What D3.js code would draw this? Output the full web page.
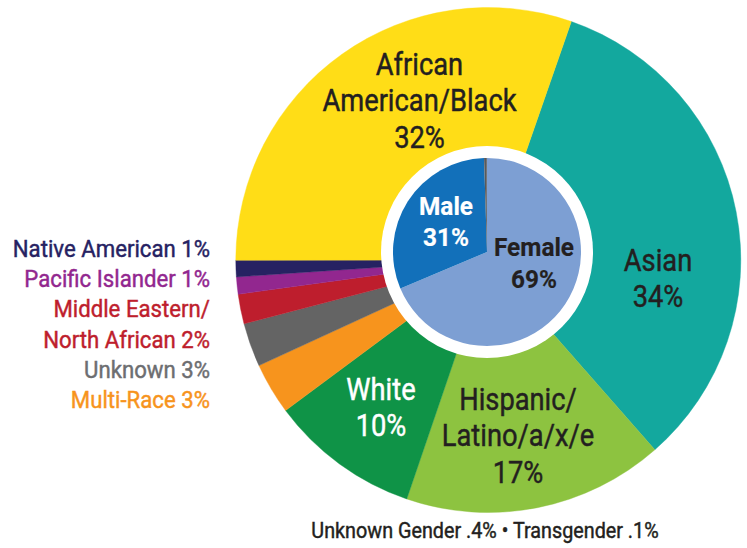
<!DOCTYPE html>
<html>
<head>
<meta charset="utf-8">
<script src="https://cdn.jsdelivr.net/npm/d3@7"></script>
<style>
  html, body { margin: 0; padding: 0; background: #fff; }
  svg { display: block; }
</style>
</head>
<body>
<svg id="chart" width="747" height="548"></svg>
<script>
// ===== Data =====
// Outer ring: race / ethnicity, clockwise from the Asian slice
const raceNames  = ["Asian", "Hispanic/Latino/a/x/e", "White", "Multi-Race", "Unknown",
                    "Middle Eastern/North African", "Pacific Islander", "Native American",
                    "African American/Black"];
const racePct    = [34, 17, 10, 3, 3, 2, 1, 1, 32];          // printed labels
const raceShare  = [33.2, 16.7, 9.6, 3.3, 2.8, 1.9, 1.1, 1.05, 30.35]; // slice sizes as drawn
const raceColors = ["#13a89e", "#8dc340", "#0f9347", "#f7941d", "#646464",
                    "#be1e2d", "#92278f", "#262262", "#ffdd17"];

// Inner pie: gender
const genderNames  = ["Female", "Male", "Unknown Gender", "Transgender"];
const genderPct    = [69, 31, 0.4, 0.1];
const genderColors = ["#7d9fd3", "#1270ba", "#58595b", "#414042"];

const footNote = "Unknown Gender .4% \u2022 Transgender .1%";

// ===== Layout =====
const svg = d3.select("#chart");
const FONT = "Roboto, 'Noto Sans', sans-serif";

const outer = { cx: 488.3, cy: 260, r: 252.5, start: 19.2 * Math.PI / 180 };
const inner = { cx: 487, cy: 252, r: 94, ring: 106 };

// Outer pie (full pie, the white disc covers its middle)
const racePie = d3.pie().sort(null).value(d => d.share)
    .startAngle(outer.start).endAngle(outer.start + 2 * Math.PI);
const raceData = raceNames.map((n, i) => ({ name: n, pct: racePct[i], share: raceShare[i], color: raceColors[i] }));
const raceArc = d3.arc().innerRadius(0).outerRadius(outer.r);

svg.append("g")
    .attr("transform", `translate(${outer.cx},${outer.cy})`)
    .selectAll("path")
    .data(racePie(raceData))
    .join("path")
    .attr("d", raceArc)
    .attr("fill", d => d.data.color)
    .attr("stroke", d => d.data.color)
    .attr("stroke-width", 0.4);

// White disc + gender pie
svg.append("circle")
    .attr("cx", inner.cx).attr("cy", inner.cy).attr("r", inner.ring)
    .attr("fill", "#fff");

const genderPie = d3.pie().sort(null).value(d => d.pct);
const genderData = genderNames.map((n, i) => ({ name: n, pct: genderPct[i], color: genderColors[i] }));
const genderArc = d3.arc().innerRadius(0).outerRadius(inner.r);

svg.append("g")
    .attr("transform", `translate(${inner.cx},${inner.cy})`)
    .selectAll("path")
    .data(genderPie(genderData))
    .join("path")
    .attr("d", genderArc)
    .attr("fill", d => d.data.color);

// ===== Labels =====
// Roboto squeezed horizontally stands in for the condensed face
function label(x, y, lines, opts) {
    const t = svg.append("text")
        .attr("transform", `translate(${x},${y}) scale(${opts.sx || 0.9},1)`)
        .attr("font-family", FONT)
        .attr("font-size", opts.size)
        .attr("font-weight", opts.weight || 400)
        .attr("fill", opts.fill)
        .attr("stroke", opts.fill)
        .attr("stroke-width", opts.weight === 700 ? 0.2 : 0.45)
        .attr("text-anchor", opts.anchor || "middle");
    lines.forEach((s, i) => {
        t.append("tspan").attr("x", 0).attr("y", i * opts.lh).text(s);
    });
    return t;
}

const dark = "#231f20";
const big = { size: 30.5, lh: 36.5, fill: dark, sx: 0.895 };

label(419.5, 75,  ["African", "American/Black", racePct[8] + "%"], big);
label(658, 271, ["Asian", racePct[0] + "%"], big);
label(518, 410, ["Hispanic/", "Latino/a/x/e", racePct[1] + "%"], big);
label(381, 400, ["White", racePct[2] + "%"], Object.assign({}, big, { fill: "#fff" }));

label(446, 215, ["Male", genderPct[1] + "%"],  { size: 26.5, lh: 31, weight: 700, fill: "#fff", sx: 0.92 });
label(534, 256, ["Female", genderPct[0] + "%"], { size: 26.5, lh: 32.5, weight: 700, fill: dark, sx: 0.92 });

// Small slices listed on the left, right-aligned
const side = [
    { lines: [raceNames[7] + " " + racePct[7] + "%"], color: raceColors[7] },
    { lines: [raceNames[6] + " " + racePct[6] + "%"], color: raceColors[6] },
    { lines: ["Middle Eastern/", "North African " + racePct[5] + "%"], color: raceColors[5] },
    { lines: [raceNames[4] + " " + racePct[4] + "%"], color: "#6d6e71" },
    { lines: [raceNames[3] + " " + racePct[3] + "%"], color: raceColors[3] }
];
let sy = 256.5;
side.forEach(s => {
    label(210, sy, s.lines, { size: 24, lh: 31, fill: s.color, anchor: "end", sx: 0.925 });
    sy += s.lines.length * 30.3;
});

label(485, 538, [footNote], { size: 21.5, lh: 0, fill: dark, sx: 0.92 });
</script>
</body>
</html>
